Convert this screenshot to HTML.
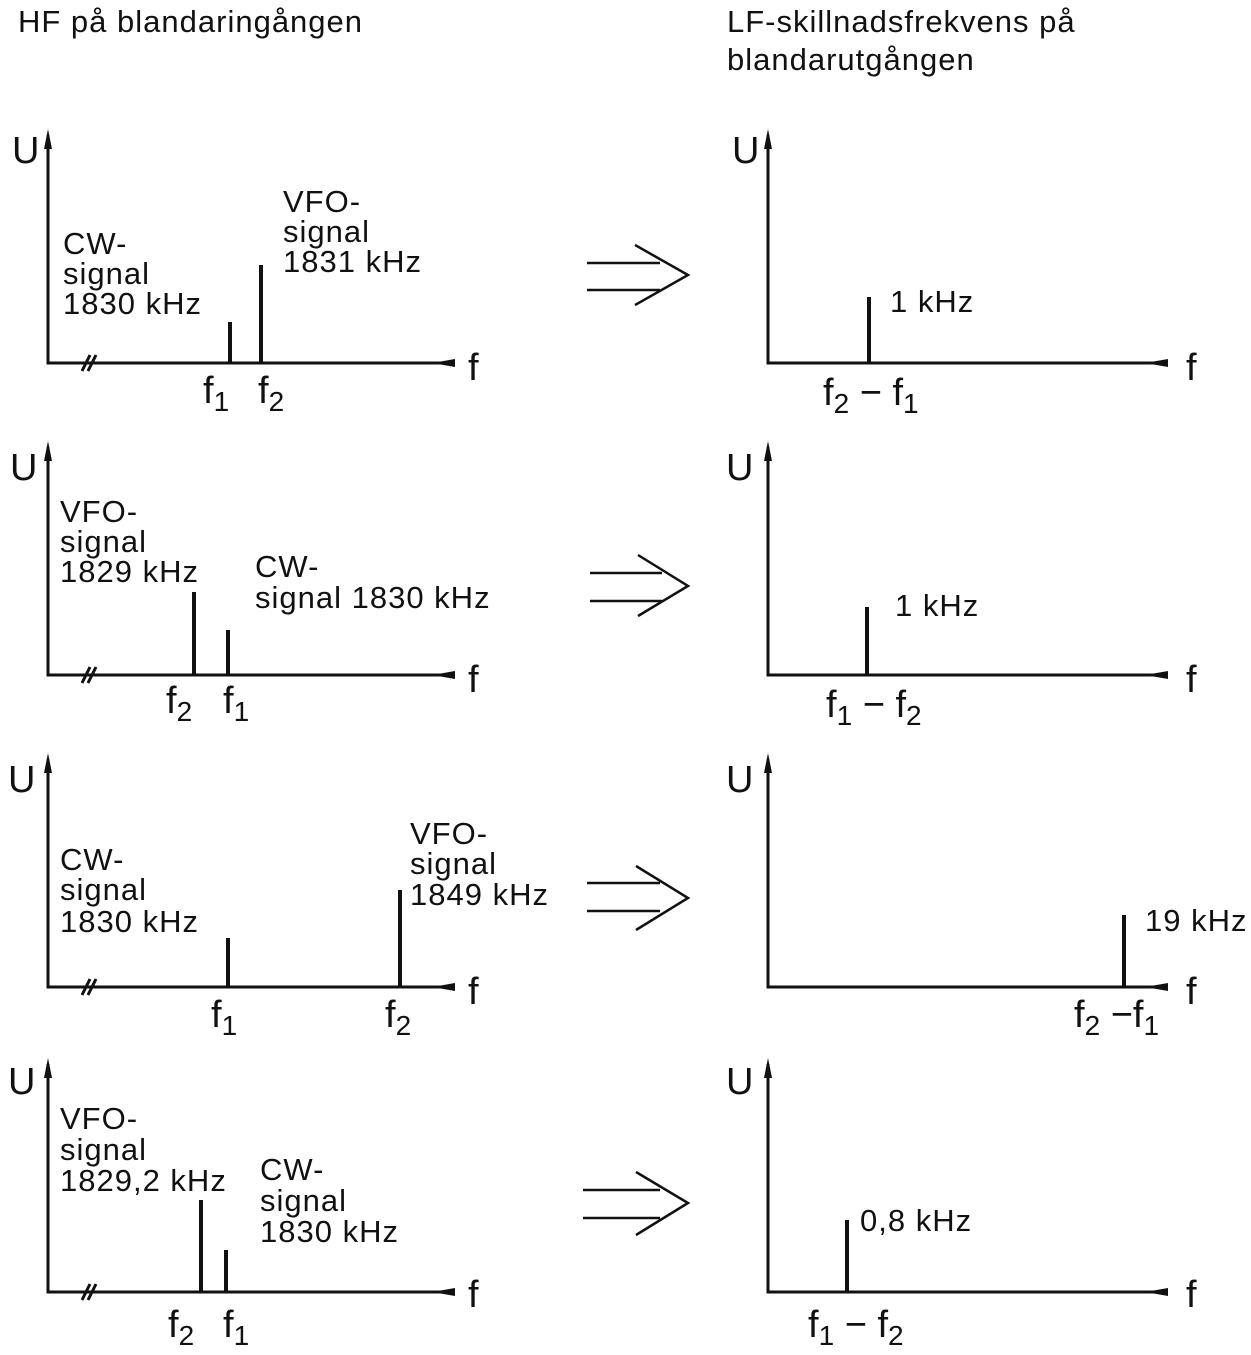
<!DOCTYPE html>
<html><head><meta charset="utf-8"><style>
html,body{margin:0;padding:0;background:#fff;}
svg{display:block;}
text{font-family:"Liberation Sans",sans-serif;fill:#111;font-size:31px;letter-spacing:1px;}
.ax{stroke:#111;stroke-width:3;fill:none;}
.ln{stroke:#111;stroke-width:4;}
.ar{stroke:#111;stroke-width:2.5;fill:none;}
.big{font-size:38px;letter-spacing:0;}
.sub{font-size:28px;}
</style></head><body>
<svg width="1251" height="1355" viewBox="0 0 1251 1355" xmlns="http://www.w3.org/2000/svg">
<text x="18" y="32" font-size="31">HF på blandaringången</text>
<text x="727" y="32" font-size="31">LF-skillnadsfrekvens på</text>
<text x="727" y="70" font-size="31">blandarutgången</text>

<defs>
<g id="lax">
<path class="ax" d="M48,0 V228 H450"/>
<path d="M48,-6 L44,14 L52,14 Z" fill="#111"/>
<path d="M432,228 L455,224 L455,232 Z" fill="#111"/>
<path class="ax" d="M82,236 L90,220 M88,236 L96,220" stroke-width="2"/>
</g>
<g id="rax">
<path class="ax" d="M768,0 V228 H1160"/>
<path d="M768,-6 L764,14 L772,14 Z" fill="#111"/>
<path d="M1145,228 L1168,224 L1168,232 Z" fill="#111"/>
</g>
</defs>

<!-- Panel 1 -->
<g transform="translate(0,135)"><use href="#lax"/><use href="#rax"/></g>
<text class="big" x="12" y="163">U</text>
<text class="big" x="732" y="163">U</text>
<text class="big" x="468" y="380">f</text>
<text class="big" x="1186" y="380">f</text>
<line class="ln" x1="230" y1="322" x2="230" y2="363"/>
<line class="ln" x1="261" y1="265" x2="261" y2="363"/>
<text x="63" y="254">CW-</text><text x="63" y="284">signal</text><text x="63" y="314">1830  kHz</text>
<text x="283" y="212">VFO-</text><text x="283" y="242">signal</text><text x="283" y="272">1831 kHz</text>
<text class="big" x="203" y="403">f<tspan class="sub" dy="8">1</tspan></text>
<text class="big" x="258" y="403">f<tspan class="sub" dy="8">2</tspan></text>
<line class="ln" x1="869" y1="297" x2="869" y2="363"/>
<text x="890" y="312" font-size="28">1 kHz</text>
<text class="big" x="823" y="405">f<tspan class="sub" dy="8">2</tspan><tspan dy="-8"> − f</tspan><tspan class="sub" dy="8">1</tspan></text>
<path class="ar" d="M587,263 H660 M587,290 H660 M635,245 L688,275 L635,305"/>

<!-- Panel 2 -->
<g transform="translate(0,447)"><use href="#lax"/><use href="#rax"/></g>
<text class="big" x="10" y="480">U</text>
<text class="big" x="726" y="480">U</text>
<text class="big" x="468" y="692">f</text>
<text class="big" x="1186" y="692">f</text>
<line class="ln" x1="194" y1="592" x2="194" y2="675"/>
<line class="ln" x1="228" y1="630" x2="228" y2="675"/>
<text x="60" y="522">VFO-</text><text x="60" y="552">signal</text><text x="60" y="582">1829 kHz</text>
<text x="255" y="577">CW-</text><text x="255" y="608">signal 1830 kHz</text>
<text class="big" x="166" y="713">f<tspan class="sub" dy="8">2</tspan></text>
<text class="big" x="223" y="713">f<tspan class="sub" dy="8">1</tspan></text>
<line class="ln" x1="867" y1="607" x2="867" y2="675"/>
<text x="895" y="616" font-size="28">1 kHz</text>
<text class="big" x="826" y="717">f<tspan class="sub" dy="8">1</tspan><tspan dy="-8"> − f</tspan><tspan class="sub" dy="8">2</tspan></text>
<path class="ar" d="M590,573 H662 M590,601 H662 M638,555 L688,586 L638,616"/>

<!-- Panel 3 -->
<g transform="translate(0,759)"><use href="#lax"/><use href="#rax"/></g>
<text class="big" x="8" y="792">U</text>
<text class="big" x="726" y="792">U</text>
<text class="big" x="468" y="1004">f</text>
<text class="big" x="1186" y="1004">f</text>
<line class="ln" x1="228" y1="938" x2="228" y2="987"/>
<line class="ln" x1="400" y1="890" x2="400" y2="987"/>
<text x="60" y="870">CW-</text><text x="60" y="900">signal</text><text x="60" y="932">1830 kHz</text>
<text x="410" y="844">VFO-</text><text x="410" y="874">signal</text><text x="410" y="905">1849 kHz</text>
<text class="big" x="211" y="1027">f<tspan class="sub" dy="8">1</tspan></text>
<text class="big" x="385" y="1027">f<tspan class="sub" dy="8">2</tspan></text>
<line class="ln" x1="1124" y1="915" x2="1124" y2="987"/>
<text x="1145" y="931" font-size="28">19 kHz</text>
<text class="big" x="1074" y="1027">f<tspan class="sub" dy="8">2</tspan><tspan dy="-8"> −f</tspan><tspan class="sub" dy="8">1</tspan></text>
<path class="ar" d="M587,883 H660 M587,911 H660 M636,866 L688,898 L636,930"/>

<!-- Panel 4 -->
<g transform="translate(0,1064)"><use href="#lax"/><use href="#rax"/></g>
<text class="big" x="8" y="1094">U</text>
<text class="big" x="726" y="1094">U</text>
<text class="big" x="468" y="1307">f</text>
<text class="big" x="1186" y="1307">f</text>
<line class="ln" x1="201" y1="1200" x2="201" y2="1292"/>
<line class="ln" x1="226" y1="1250" x2="226" y2="1292"/>
<text x="60" y="1129">VFO-</text><text x="60" y="1160">signal</text><text x="60" y="1191">1829,2 kHz</text>
<text x="260" y="1180">CW-</text><text x="260" y="1211">signal</text><text x="260" y="1242">1830 kHz</text>
<text class="big" x="168" y="1337">f<tspan class="sub" dy="8">2</tspan></text>
<text class="big" x="223" y="1337">f<tspan class="sub" dy="8">1</tspan></text>
<line class="ln" x1="847" y1="1220" x2="847" y2="1292"/>
<text x="860" y="1231" font-size="28">0,8  kHz</text>
<text class="big" x="808" y="1337">f<tspan class="sub" dy="8">1</tspan><tspan dy="-8"> − f</tspan><tspan class="sub" dy="8">2</tspan></text>
<path class="ar" d="M583,1190 H660 M583,1218 H660 M636,1172 L688,1203 L636,1235"/>
</svg>
</body></html>
